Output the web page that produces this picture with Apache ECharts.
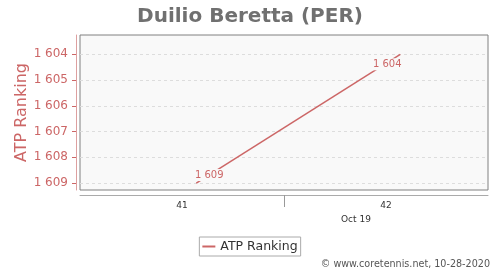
<!DOCTYPE html>
<html><head><meta charset="utf-8">
<script src="https://cdn.jsdelivr.net/npm/echarts@6/dist/echarts.min.js"></script>
<style>html,body{margin:0;padding:0;background:#fff}#c{width:500px;height:270px}</style>
</head><body><div id="c"></div>
<script>
const weeks = [41.07, 42.07];
const rankings = [1609, 1604];
const yTicks = [1604, 1605, 1606, 1607, 1608, 1609];
const xLabels = [41, 42];
const xSeparators = [41.5];
const monthLabel = 'Oct 19';
const seriesName = 'ATP Ranking';

const red = '#cc6666';
const chart = echarts.init(document.getElementById('c'), null, {renderer: 'canvas'});
const fmt = v => String(v).replace(/\B(?=(\d{3})+(?!\d))/g, ' ');
const labelPlacement = [
  {position: 'top', offset: [13, 3]},
  {position: 'bottom', offset: [-13, -1]}
];
chart.setOption({
  animation: false,
  title: {
    text: 'Duilio Beretta (PER)', left: 'center', top: 2,
    textStyle: {fontFamily: 'DejaVu Sans', fontSize: 20, fontWeight: 'bold', color: '#707070'}
  },
  grid: {left: 80, right: 12, top: 35, height: 155, show: true, backgroundColor: '#f9f9f9', borderColor: '#808080', borderWidth: 1},
  legend: {
    data: [seriesName], bottom: 14, left: 'center', itemWidth: 13, itemHeight: 2, itemGap: 5,
    borderColor: '#aaa', borderWidth: 1, borderRadius: 0, padding: [3, 3],
    textStyle: {fontFamily: 'DejaVu Sans', fontSize: 12.5, color: '#333'},
    icon: 'rect'
  },
  xAxis: {
    type: 'value', min: 40.5, max: 42.5, offset: 5,
    axisLine: {show: true, lineStyle: {color: '#aaa'}},
    axisTick: {show: true, customValues: xSeparators, length: 12, lineStyle: {color: '#999'}},
    axisLabel: {customValues: xLabels, fontFamily: 'DejaVu Sans', fontSize: 9, color: '#333', margin: 6},
    splitLine: {show: false}
  },
  yAxis: {
    type: 'value', inverse: true, min: 1603.25, max: 1609.27, offset: 4,
    name: 'ATP Ranking', nameLocation: 'middle', nameGap: 46, nameRotate: 90, nameMoveOverlap: false,
    nameTextStyle: {fontFamily: 'DejaVu Sans', fontSize: 16, color: red},
    axisLine: {show: true, lineStyle: {color: '#dda0a0'}},
    axisTick: {show: true, customValues: yTicks, length: 4, lineStyle: {color: red}},
    axisLabel: {customValues: yTicks, formatter: fmt, fontFamily: 'DejaVu Sans', fontSize: 12, color: red, margin: 8},
    splitLine: {show: true, lineStyle: {color: '#dddddd', type: [3, 3]}}
  },
  graphic: [
    {type: 'text', left: 341, top: 215, style: {text: monthLabel, font: '9px "DejaVu Sans"', fill: '#333'}},
    {type: 'text', right: 10, top: 259, style: {text: '© www.coretennis.net, 10-28-2020', font: '9.6px "DejaVu Sans"', fill: '#555'}}
  ],
  series: [{
    name: seriesName, type: 'line',
    data: weeks.map((w, i) => ({value: [w, rankings[i]], label: labelPlacement[i]})),
    symbol: 'circle', symbolSize: 0.01, showSymbol: true,
    lineStyle: {color: red, width: 1.5}, itemStyle: {color: red},
    label: {show: true, formatter: p => fmt(p.value[1]), fontFamily: 'DejaVu Sans', fontSize: 10, color: red,
      backgroundColor: '#f9f9f9', padding: [1, 1]}
  }]
});
</script></body></html>
